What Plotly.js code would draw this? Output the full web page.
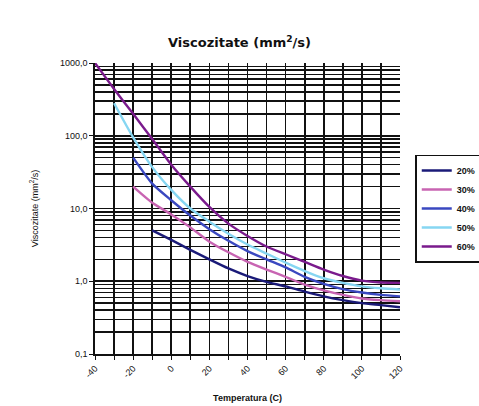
<!DOCTYPE html>
<html>
<head>
<meta charset="utf-8">
<script src="https://cdn.plot.ly/plotly-3.0.1.min.js"></script>
<style>html,body{margin:0;padding:0;background:#fff;}#chart{width:479px;height:406px;}</style>
</head>
<body>
<div id="chart"></div>
<script>
const temps = [-40,-30,-20,-10,0,10,20,30,40,50,60,70,80,90,100,110,120];
const names = ['20%','30%','40%','50%','60%'];
const colors = ['#1a1a78','#c864b2','#3a48c0','#86d6f2','#7a1a8c'];
const v20 = [null,null,null,5,3.7,2.7,2.0,1.5,1.18,0.98,0.85,0.72,0.62,0.55,0.5,0.47,0.44];
const v30 = [null,null,20,12,8.3,5.5,3.5,2.5,1.85,1.45,1.15,0.9,0.75,0.65,0.58,0.55,0.53];
const v40 = [null,null,50,22,13,8,5.2,3.6,2.6,2.0,1.55,1.15,0.92,0.78,0.7,0.65,0.62];
const v50 = [null,280,95,37,18,10,6.6,4.5,3.2,2.4,1.8,1.38,1.1,0.95,0.85,0.8,0.77];
const v60 = [1000,440,200,90,40,20,10.5,6.2,4.2,3.0,2.35,1.85,1.45,1.18,1.02,0.96,0.95];
const series = [v20,v30,v40,v50,v60];
const yMajor = [0.1,1,10,100,1000];
const yMajorText = ['0,1','1,0','10,0','100,0','1000,0'];
const yMinor = [];
[0.1,1,10,100].forEach(d => { for (let k=2;k<=9;k++) yMinor.push(+(d*k).toPrecision(3)); });
const xTicks = [-40,-20,0,20,40,60,80,100,120];

const traces = series.map((vals,i) => ({
  x: temps, y: vals, name: names[i], type: 'scatter', mode: 'lines',
  line: {color: colors[i], width: 2.4, shape: 'spline', smoothing: 0.6},
  connectgaps: false
}));

const font = {family: 'Liberation Sans, Arial, sans-serif', color: '#111'};
const layout = {
  width: 479, height: 406,
  margin: {l: 95, r: 79, t: 63, b: 52, autoexpand: false},
  paper_bgcolor: '#fff', plot_bgcolor: '#fff',
  title: {text: '<b>Viscozitate (mm<sup>2</sup>/s)</b>', x: 0.5, xanchor: 'center', y: 0.895, yanchor: 'middle',
          font: Object.assign({}, font, {size: 13, family: 'DejaVu Sans, sans-serif'})},
  xaxis: {
    range: [-40, 120], tickmode: 'array', tickvals: xTicks, ticktext: xTicks.map(String),
    tickangle: -45, tickfont: Object.assign({}, font, {size: 9}),
    showgrid: true, gridcolor: '#111', gridwidth: 1.7,
    minor: {dtick: 10, tick0: 0, showgrid: true, gridcolor: '#111', gridwidth: 1.7, ticks: 'outside', ticklen: 4, tickcolor: '#111'},
    ticks: 'outside', ticklen: 4, tickcolor: '#111',
    showline: true, linecolor: '#111', linewidth: 1.7, zeroline: false, automargin: false,
    title: {text: '<b>Temperatura (C)</b>', font: Object.assign({}, font, {size: 9}), standoff: 14}
  },
  yaxis: {
    type: 'log', range: [-1, 3], tickmode: 'array', tickvals: yMajor, ticktext: yMajorText,
    tickfont: Object.assign({}, font, {size: 9}),
    showgrid: true, gridcolor: '#111', gridwidth: 1.7,
    minor: {tickmode: 'array', tickvals: yMinor, showgrid: true, gridcolor: '#111', gridwidth: 1.5, ticks: ''},
    ticks: 'outside', ticklen: 4, tickcolor: '#111',
    showline: true, linecolor: '#111', linewidth: 1.7, zeroline: false, automargin: false,
    title: {text: 'Viscozitate (mm<sup>2</sup>/s)', font: Object.assign({}, font, {size: 9}), standoff: 20}
  },
  legend: {
    x: 1.05, xanchor: 'left', y: 0.5, yanchor: 'middle',
    bordercolor: '#111', borderwidth: 1.5, bgcolor: '#fff',
    font: Object.assign({}, font, {size: 9, weight: 'bold'}),
    itemwidth: 30, tracegroupgap: 0
  },
  showlegend: true
};

Plotly.newPlot('chart', traces, layout, {displayModeBar: false, staticPlot: true});
</script>
</body>
</html>
